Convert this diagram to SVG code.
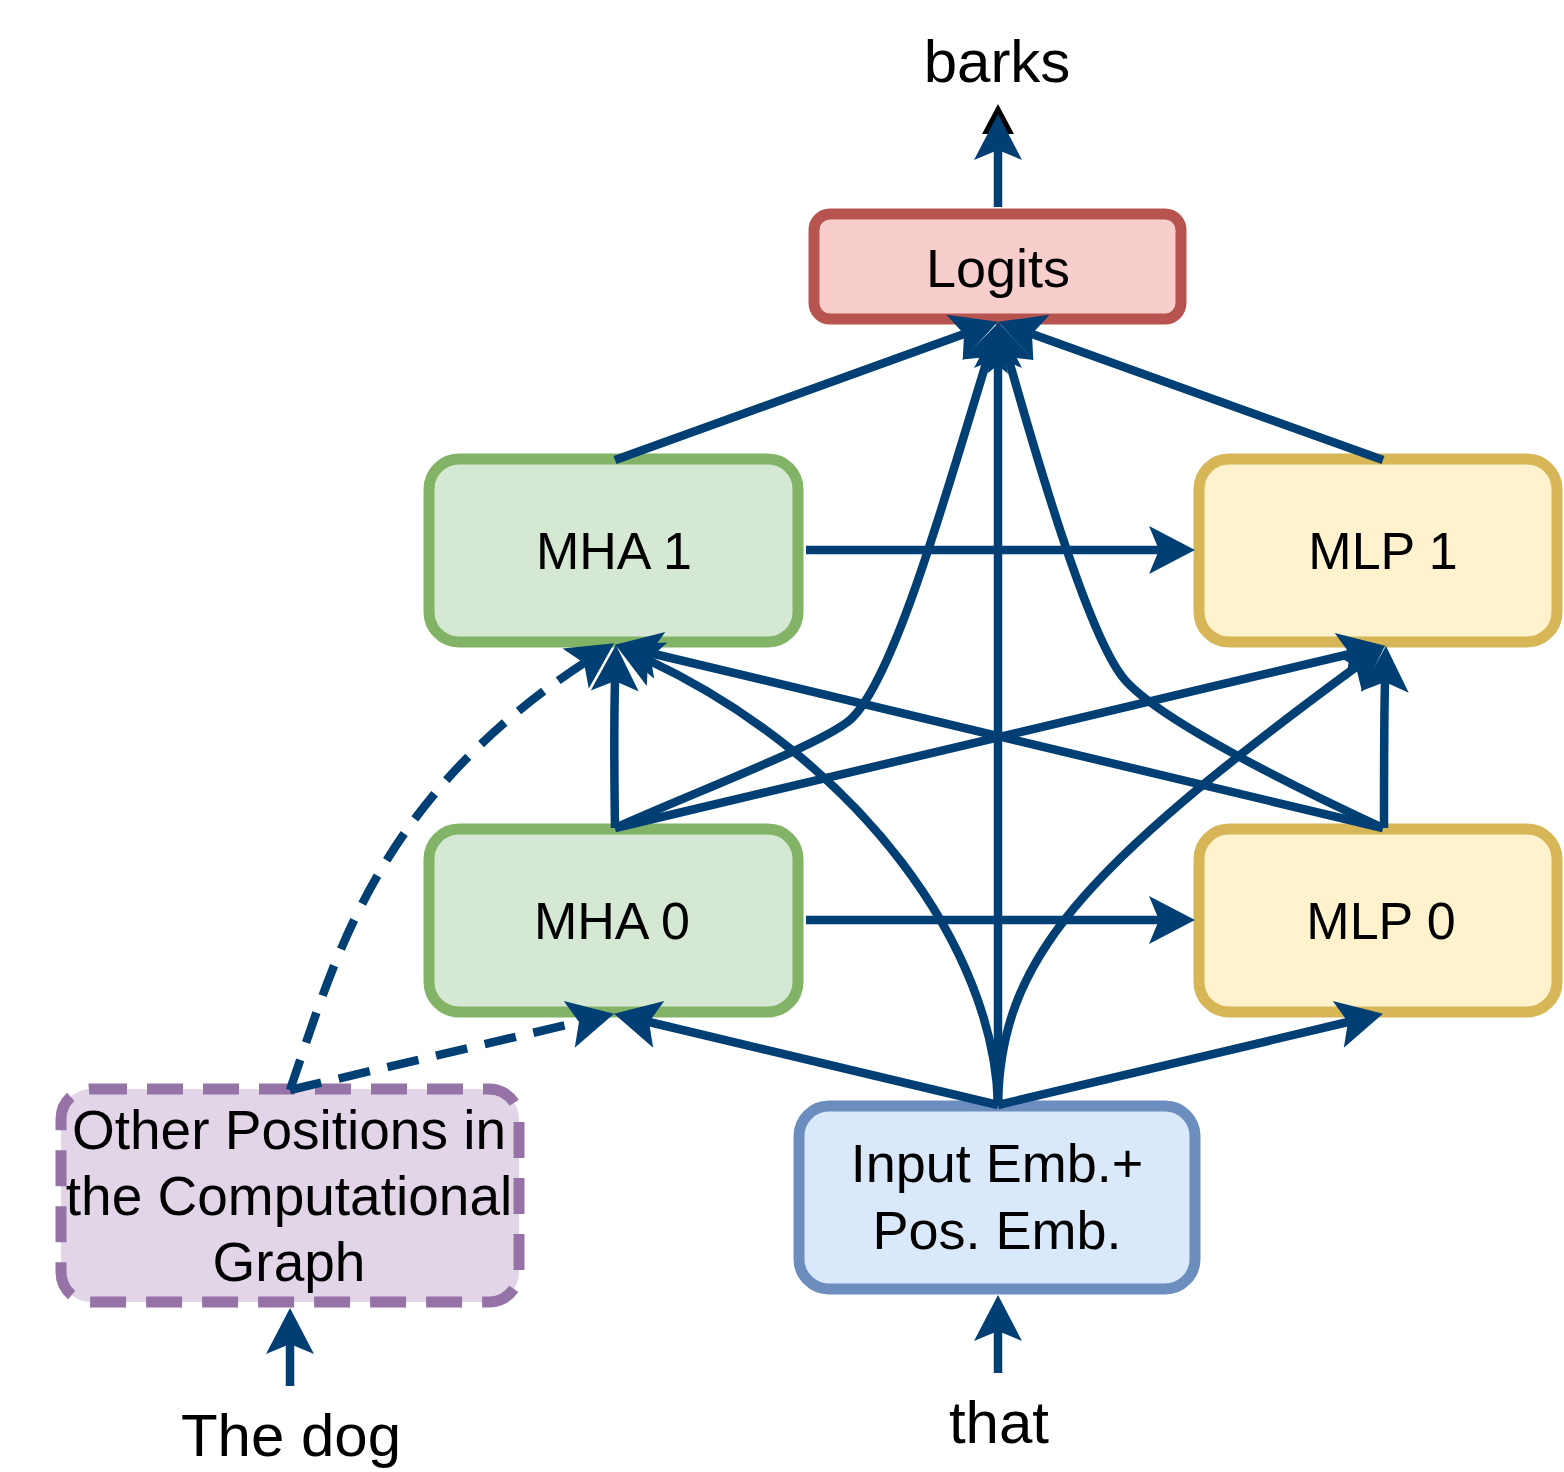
<svg xmlns="http://www.w3.org/2000/svg" width="1564" height="1472" viewBox="0 0 1564 1472">
<style>
.lbl{font-family:"Liberation Sans",Arial,sans-serif;fill:#000;text-anchor:middle}
.n{font-size:52px}
.m{font-size:54px}
.p{font-size:55px}
.o{font-size:60px}
.c{fill:none;stroke:#003f73;stroke-width:8.5;stroke-linecap:butt;marker-end:url(#ah)}
.d{stroke-dasharray:32 18}
.box{stroke-width:11}
</style>
<defs>
<marker id="ah" markerUnits="userSpaceOnUse" markerWidth="100" markerHeight="100" refX="0" refY="0" orient="auto" overflow="visible">
<path d="M36,0 L-10,-24 L0,0 L-10,24 Z" fill="#003f73"/>
</marker>
</defs>
<rect width="1564" height="1472" fill="#fff"/>

<g id="node-logits">
<rect class="box" x="814" y="214" width="367" height="105" rx="16" fill="#f8cecc" stroke="#b85450"/>
<text class="lbl m" x="998" y="287">Logits</text>
</g>
<g id="node-mha1">
<rect class="box" x="429" y="459" width="369" height="183" rx="30" fill="#d5e8d4" stroke="#82b366"/>
<text class="lbl n" x="614" y="569">MHA 1</text>
</g>
<g id="node-mlp1">
<rect class="box" x="1199" y="459" width="358" height="183" rx="30" fill="#fff2cc" stroke="#d6b656"/>
<text class="lbl n" x="1383" y="569">MLP 1</text>
</g>
<g id="node-mha0">
<rect class="box" x="429" y="829" width="369" height="183" rx="30" fill="#d5e8d4" stroke="#82b366"/>
<text class="lbl n" x="612" y="939">MHA 0</text>
</g>
<g id="node-mlp0">
<rect class="box" x="1199" y="829" width="358" height="183" rx="30" fill="#fff2cc" stroke="#d6b656"/>
<text class="lbl n" x="1381" y="939">MLP 0</text>
</g>
<g id="node-input">
<rect class="box" x="799" y="1106" width="396" height="183" rx="30" fill="#dae8fc" stroke="#6c8ebf"/>
<text class="lbl m" x="997" y="1182">Input Emb.+</text>
<text class="lbl m" x="997" y="1249">Pos. Emb.</text>
</g>
<g id="node-other">
<rect class="box" x="61" y="1089" width="458" height="213" rx="30" fill="#e1d5e7" stroke="#9673a6" stroke-dasharray="36 20"/>
<text class="lbl p" x="289" y="1149">Other Positions in</text>
<text class="lbl p" x="289" y="1215">the Computational</text>
<text class="lbl p" x="289" y="1281">Graph</text>
</g>
<g id="labels">
<text class="lbl o" x="997" y="82">barks</text>
<text class="lbl o" x="291" y="1456">The dog</text>
<text class="lbl o" x="999" y="1443">that</text>
</g>

<g id="connectors">
<polygon points="998,104 982,134 1014,134" fill="#000"/>
<path class="c" d="M998,207 L998,150"/>
<path class="c" d="M290,1386 L290,1344"/>
<path class="c" d="M998,1373 L998,1331"/>
<path class="c" d="M615,460 L964,334"/>
<path class="c" d="M1383,460 L1032,334"/>
<path class="c" d="M998,1105 L998,358"/>
<path class="c" d="M615,828 C700,790 820,745 850,720 C895,680 950,480 988,357"/>
<path class="c" d="M1383,828 C1290,785 1160,720 1125,680 C1090,640 1040,470 1008,357"/>
<path class="c" d="M806,550 L1159,550"/>
<path class="c" d="M806,920 L1159,920"/>
<path class="c" d="M615,828 C614,760 614,720 615,681"/>
<path class="c" d="M1384,828 C1384,760 1384,720 1385,682"/>
<path class="c" d="M615,828 L1350,654"/>
<path class="c" d="M1383,828 L650,653"/>
<path class="c" d="M998,1105 C995,950 860,760 648,660"/>
<path class="c" d="M998,1105 C1000,960 1080,870 1356,667"/>
<path class="c" d="M998,1105 L649,1022"/>
<path class="c" d="M998,1105 L1348,1022"/>
<path class="c d" d="M290,1090 L579,1022"/>
<path class="c d" d="M290,1090 C335,960 375,800 584,663"/>
</g>
</svg>
